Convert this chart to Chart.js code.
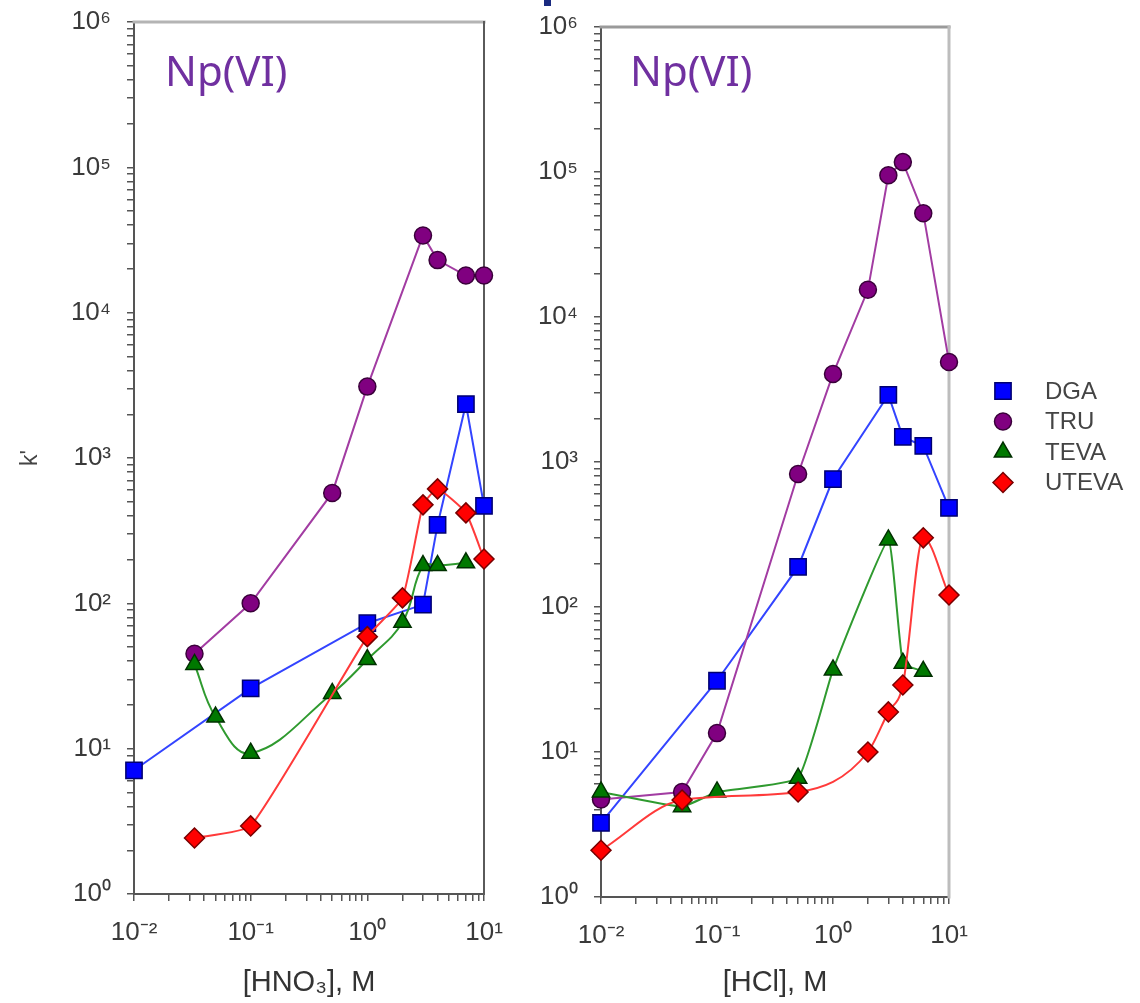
<!DOCTYPE html>
<html>
<head>
<meta charset="utf-8">
<script src="https://cdn.jsdelivr.net/npm/chart.js@4.4.1/dist/chart.umd.min.js"></script>
<style>
  html, body { margin: 0; padding: 0; background: #fff; }
  body { width: 1140px; height: 1003px; position: relative; overflow: hidden; }
  canvas { position: absolute; top: 0; }
  #hno3 { left: 0; }
  #hcl { left: 500px; }
  .mark { position: absolute; left: 544px; top: 0; width: 7px; height: 6px; background: #1a2a80; }
</style>
</head>
<body>
<div class="mark"></div>
<canvas id="hno3" width="520" height="1003"></canvas>
<canvas id="hcl" width="640" height="1003"></canvas>
<script>
const seriesNames = ['DGA', 'TRU', 'TEVA', 'UTEVA'];

// [HNO3] panel, k' vs acid molarity
const hno3DgaX = [0.01, 0.1, 1, 3, 4, 7, 10];
const hno3DgaK = [7.1, 26, 73, 98, 347, 2350, 468];
const hno3TruX = [0.033, 0.1, 0.5, 1, 3, 4, 7, 10];
const hno3TruK = [45, 100, 575, 3100, 34000, 23000, 18000, 18000];
const hno3TevaX = [0.033, 0.05, 0.1, 0.5, 1, 2, 3, 4, 7];
const hno3TevaK = [38, 16.5, 9.3, 24, 41, 74, 182, 182, 190];
const hno3UtevaX = [0.033, 0.1, 1, 2, 3, 4, 7, 10];
const hno3UtevaK = [2.43, 2.94, 59, 109, 476, 613, 419, 202];

// [HCl] panel
const hclDgaX = [0.01, 0.1, 0.5, 1, 3, 4, 6, 10];
const hclDgaK = [3.24, 31, 189, 763, 2900, 1490, 1290, 482];
const hclTruX = [0.01, 0.05, 0.1, 0.5, 1, 2, 3, 4, 6, 10];
const hclTruK = [4.7, 5.3, 13.5, 827, 4050, 15400, 95000, 117000, 52000, 4900];
const hclTevaX = [0.01, 0.05, 0.1, 0.5, 1, 3, 4, 6];
const hclTevaK = [5.3, 4.2, 5.3, 6.6, 36.8, 290, 41, 36];
const hclUtevaX = [0.01, 0.05, 0.5, 2, 3, 4, 6, 10];
const hclUtevaK = [2.1, 4.67, 5.3, 10, 18.9, 29, 300, 121];

// axis ticks
const xTickValues = [0.01, 0.1, 1, 10];
const xTickLabels = ['10\u207B\u00B2', '10\u207B\u00B9', '10\u2070', '10\u00B9'];
const yTickValues = [1, 10, 100, 1e3, 1e4, 1e5, 1e6];
const yTickLabels = ['10\u2070', '10\u00B9', '10\u00B2', '10\u00B3', '10\u2074', '10\u2075', '10\u2076'];

const panelTitle = 'Np(VI)';

const seriesStyle = {
  DGA:   { point: 'rect',     radius: 11.5, fill: '#0000ff', edge: '#000070', line: '#3344ff', order: 3 },
  TRU:   { point: 'circle',   radius: 8.5,  fill: '#800080', edge: '#3a003a', line: '#a23ca2', order: 2 },
  TEVA:  { point: 'triangle', radius: 10,   fill: '#007800', edge: '#003000', line: '#2f9a2f', order: 1 },
  UTEVA: { point: 'rectRot',  radius: 10,   fill: '#ff0000', edge: '#780000', line: '#ff3a3a', order: 0 }
};

const FONT = '"Liberation Sans", Arial, sans-serif';

// all 1..9 x 10^n positions between the decades
function logTicks(decades) {
  const out = [];
  for (let i = 0; i < decades.length - 1; i++) {
    for (let m = 1; m <= 9; m++) out.push(decades[i] * m);
  }
  out.push(decades[decades.length - 1]);
  return out;
}

function labelFor(values, labels) {
  return (value) => {
    const i = values.findIndex(v => Math.abs(Math.log10(v) - Math.log10(value)) < 1e-6);
    return i >= 0 ? labels[i] : '';
  };
}

const panelDecor = {
  id: 'panelDecor',
  beforeDatasetsDraw(chart, args, opts) {
    const { ctx, chartArea: a } = chart;
    ctx.save();
    ctx.lineCap = 'square';
    ctx.strokeStyle = opts.topColor;
    ctx.lineWidth = 3;
    ctx.beginPath(); ctx.moveTo(a.left, a.top); ctx.lineTo(a.right, a.top); ctx.stroke();
    ctx.strokeStyle = opts.rightColor;
    ctx.lineWidth = opts.rightWidth;
    ctx.beginPath(); ctx.moveTo(a.right, a.top); ctx.lineTo(a.right, a.bottom); ctx.stroke();

    ctx.fillStyle = '#7030a0';
    ctx.font = '42px "Noto Sans", sans-serif';
    ctx.textBaseline = 'alphabetic';
    ctx.fillText(panelTitle, a.left + opts.titleDx, 86);
    ctx.restore();
  },
  afterDraw(chart, args, opts) {
    if (!opts.legend) return;
    const { ctx } = chart;
    const lg = opts.legend;
    ctx.save();
    seriesNames.forEach((name, i) => {
      const st = seriesStyle[name];
      const y = lg.top + i * lg.step;
      ctx.fillStyle = st.fill;
      ctx.strokeStyle = st.edge;
      ctx.lineWidth = 1.5;
      Chart.helpers.drawPoint(ctx, { pointStyle: st.point, radius: st.radius, borderWidth: 1.5, rotation: 0 }, lg.x, y);
      ctx.fillStyle = '#444';
      ctx.font = '24px ' + FONT;
      ctx.textBaseline = 'middle';
      ctx.fillText(name, lg.textX, y + 1);
    });
    ctx.restore();
  }
};

function buildDatasets(series, curve) {
  return seriesNames.map((name, i) => {
    const st = seriesStyle[name];
    const [xs, ks] = series[i];
    const c = curve[i];
    return {
      label: name,
      data: xs.map((x, j) => ({ x: x, y: ks[j] })),
      borderColor: st.line,
      borderWidth: 2,
      backgroundColor: st.fill,
      pointBackgroundColor: st.fill,
      pointBorderColor: st.edge,
      pointBorderWidth: 1.5,
      pointStyle: st.point,
      pointRadius: st.radius,
      pointHoverRadius: st.radius,
      cubicInterpolationMode: c === 'monotone' ? 'monotone' : 'default',
      tension: c === 'monotone' ? 0.4 : c,
      order: st.order,
      clip: false
    };
  });
}

function makePanel(canvasId, cfg) {
  return new Chart(document.getElementById(canvasId), {
    type: 'line',
    data: { datasets: buildDatasets(cfg.series, cfg.curve) },
    options: {
      responsive: false,
      animation: false,
      events: [],
      layout: { autoPadding: false, padding: cfg.padding },
      plugins: {
        legend: { display: false },
        tooltip: { enabled: false },
        panelDecor: cfg.decor
      },
      scales: {
        x: {
          type: 'logarithmic',
          position: 'bottom',
          min: 0.01,
          max: 10,
          border: { color: '#555', width: 2 },
          grid: { drawOnChartArea: false, tickLength: 7, color: '#555', lineWidth: 1.5 },
          ticks: {
            autoSkip: false, maxRotation: 0, padding: 16,
            color: '#3a3a3a', font: { family: FONT, size: 26 },
            callback: labelFor(xTickValues, xTickLabels)
          },
          title: {
            display: true, text: cfg.xTitle, color: '#333',
            font: { family: FONT, size: 29 }, padding: { top: 0, bottom: 3 }
          },
          afterBuildTicks: s => { s.ticks = logTicks(xTickValues).map(v => ({ value: v })); },
          afterFit: s => { s.height = cfg.xAxisHeight; s.paddingLeft = 0; s.paddingRight = 0; }
        },
        y: {
          type: 'logarithmic',
          min: 1,
          max: 1e6,
          border: { color: '#555', width: 2 },
          grid: { drawOnChartArea: false, tickLength: 7, color: '#555', lineWidth: 1.5 },
          ticks: {
            autoSkip: false, padding: 16,
            color: '#3a3a3a', font: { family: FONT, size: 26 },
            callback: labelFor(yTickValues, yTickLabels)
          },
          title: {
            display: !!cfg.yTitle, text: cfg.yTitle || '', color: '#444',
            font: { family: FONT, size: 23 }, padding: { top: 17, bottom: 0 }
          },
          afterBuildTicks: s => { s.ticks = logTicks(yTickValues).map(v => ({ value: v })); },
          afterFit: s => { s.width = cfg.yAxisWidth; s.paddingTop = 0; s.paddingBottom = 0; }
        }
      }
    },
    plugins: [panelDecor]
  });
}

makePanel('hno3', {
  series: [[hno3DgaX, hno3DgaK], [hno3TruX, hno3TruK], [hno3TevaX, hno3TevaK], [hno3UtevaX, hno3UtevaK]],
  curve: [0, 0, 0.4, 0.15],
  padding: { left: 0, right: 36, top: 22, bottom: 0 },
  yAxisWidth: 134,
  xAxisHeight: 109,
  xTitle: '[HNO\u2083], M',
  yTitle: "k'",
  decor: { topColor: '#b4b4b4', rightColor: '#5a5a5a', rightWidth: 2, titleDx: 31 }
});

makePanel('hcl', {
  series: [[hclDgaX, hclDgaK], [hclTruX, hclTruK], [hclTevaX, hclTevaK], [hclUtevaX, hclUtevaK]],
  curve: [0, 0, 0.12, 'monotone'],
  padding: { left: 0, right: 191, top: 27, bottom: 0 },
  yAxisWidth: 101,
  xAxisHeight: 106,
  xTitle: '[HCl], M',
  yTitle: '',
  decor: {
    topColor: '#9a9a9a', rightColor: '#bdbdbd', rightWidth: 3, titleDx: 29,
    legend: { x: 503, textX: 545, top: 391, step: 30.5 }
  }
});
</script>
</body>
</html>
